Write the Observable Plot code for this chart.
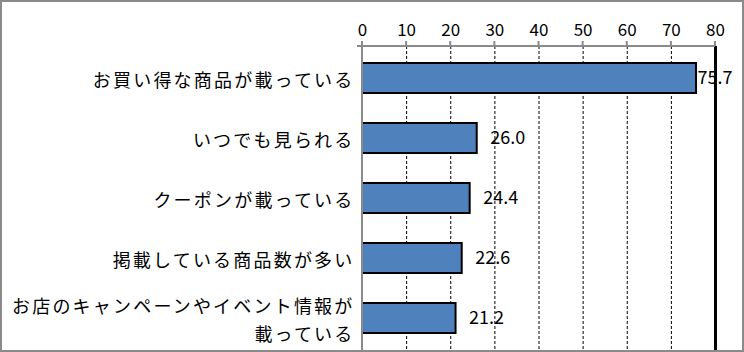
<!DOCTYPE html>
<html><head><meta charset="utf-8">
<script src="https://cdn.jsdelivr.net/npm/d3@7"></script>
<script src="https://cdn.jsdelivr.net/npm/@observablehq/plot@0.6"></script>
<style>
body{margin:0;background:#fff;}
#chart svg{outline:2px solid #8a8a8a;outline-offset:-2px;}
#chart g[aria-label="y-axis tick label"] text{letter-spacing:2.2px;}
</style>
</head><body><div id="chart"></div>
<script>
const categories = ["お買い得な商品が載っている","いつでも見られる","クーポンが載っている","掲載している商品数が多い","お店のキャンペーンやイベント情報が\n載っている"];
const values = [75.7, 26.0, 24.4, 22.6, 21.2];
const xTicks = [0,10,20,30,40,50,60,70,80];
const gridTicks = [10,20,30,40,50,60,70];
const data = categories.map((c,i)=>({cat:c, value:values[i]}));
const font = "'Noto Sans CJK JP', sans-serif";
const gray = "#8a8a8a";

function decorations(index, scales, values, dims){
  const x = scales.x, y = scales.y;
  const ns = "http://www.w3.org/2000/svg";
  const g = document.createElementNS(ns,"g");
  const add = (x1,y1,x2,y2)=>{const l=document.createElementNS(ns,"line");
    l.setAttribute("x1",x1);l.setAttribute("y1",y1);l.setAttribute("x2",x2);l.setAttribute("y2",y2);
    l.setAttribute("stroke",gray);l.setAttribute("stroke-width",2);g.appendChild(l);};
  const top = dims.marginTop, bottom = dims.height - dims.marginBottom;
  const x0 = x(0), xr = x(80);
  add(x0-5, top, xr, top);
  for (const t of xTicks) add(x(t), top-5, x(t), top);
  add(x0, top-5, x0, bottom+2);
  const step = y(categories[1]) - y(categories[0]);
  const bw = y.bandwidth ? y.bandwidth : step*0.5;
  for (const c of categories){ const b = y(c) - (step-bw)/2; add(x0-5, b, x0, b); }
  return g;
}

const chart = Plot.plot({
  width: 744, height: 352,
  marginTop: 46, marginBottom: 2, marginLeft: 362, marginRight: 29,
  style: {fontFamily: font, background: "#fff"},
  x: {domain: [0,80], axis: null, label: null},
  y: {domain: categories, paddingInner: 0.5, paddingOuter: 0.25, axis: null, label: null},
  marks: [
    Plot.ruleX(gridTicks, {stroke: "#000", strokeWidth: 1, strokeDasharray: "3,2"}),
    Plot.ruleX([80], {stroke: "#000", strokeWidth: 3}),
    Plot.barX(data, {y: "cat", x: "value", fill: "#4F81BD", stroke: "#000", strokeWidth: 2}),
    decorations,
    Plot.axisX(xTicks, {anchor: "top", label: null, tickSize: 0, tickPadding: 11, fontSize: 17, fill: "#000", tickFormat: d=>String(d)}),
    Plot.axisY(categories, {anchor: "left", label: null, tickSize: 0, tickPadding: 8, fontSize: 18, fill: "#000", lineHeight: 1.55, tickFormat: d=>d}),
    Plot.text(data.filter(d=>d.value>70), {y: "cat", x: "value", text: d=>d.value.toFixed(1), textAnchor: "start", dx: 1, fontSize: 18, fill: "#000"}),
    Plot.text(data.filter(d=>d.value<=70), {y: "cat", x: "value", text: d=>d.value.toFixed(1), textAnchor: "start", dx: 13, fontSize: 18, fill: "#000"})
  ]
});
document.getElementById("chart").appendChild(chart);
</script></body></html>
